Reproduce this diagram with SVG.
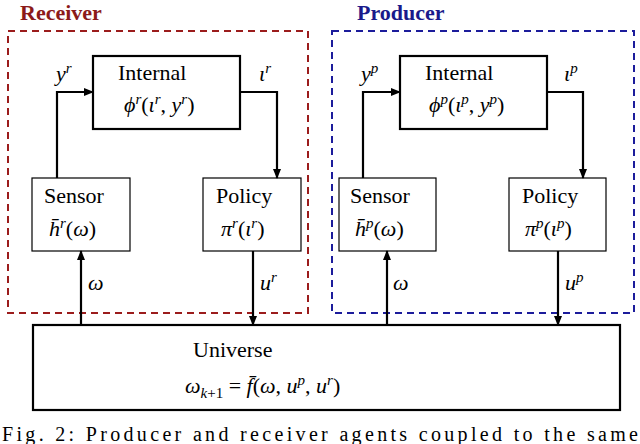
<svg xmlns="http://www.w3.org/2000/svg" width="640" height="444" viewBox="0 0 640 444">
<defs><marker id="ah" markerWidth="10" markerHeight="8" refX="9" refY="4" orient="auto" markerUnits="userSpaceOnUse"><path d="M0,0 L10,4 L0,8 Z" fill="#000"/></marker></defs>
<style>
text{font-family:"Liberation Serif",serif;font-size:22px;fill:#000}
.m{font-style:italic}
.sup{font-size:15px;font-style:italic}
.b{stroke:#000;fill:#fff}
.c path{stroke:#000;stroke-width:2.2;fill:none;marker-end:url(#ah)}
.t{font-weight:bold;font-size:22px}
</style>
<rect width="640" height="444" fill="#fff"/>
<g id="receiver"><rect x="8" y="31" width="300" height="282" fill="none" stroke="#9b1c1c" stroke-width="2" stroke-dasharray="7,5"/><text x="20" y="20" class="t" style="fill:#8b1a1a">Receiver</text></g>
<g id="producer"><rect x="332" y="31" width="302" height="282" fill="none" stroke="#1c1c9b" stroke-width="2" stroke-dasharray="7,5"/><text x="357" y="20" class="t" style="fill:#1a1a8b">Producer</text></g>
<g id="internal_r"><rect class="b" x="93" y="56" width="147" height="73" stroke-width="2.2"/><text x="118" y="80">Internal</text><text x="124" y="112" class="m">ϕ<tspan class="sup" dy="-8">r</tspan><tspan dy="8" style="font-style:normal">(</tspan>ι<tspan class="sup" dy="-8">r</tspan><tspan dy="8" style="font-style:normal">,</tspan> y<tspan class="sup" dy="-8">r</tspan><tspan dy="8" style="font-style:normal">)</tspan></text></g>
<g id="sensor_r"><rect class="b" x="32" y="178" width="98" height="73" stroke-width="1.2"/><text x="44" y="203">Sensor</text><text x="49" y="236" class="m">h̄<tspan class="sup" dy="-8">r</tspan><tspan dy="8" style="font-style:normal">(</tspan>ω<tspan style="font-style:normal">)</tspan></text></g>
<g id="policy_r"><rect class="b" x="203" y="178" width="98" height="73" stroke-width="1.2"/><text x="216" y="203">Policy</text><text x="221" y="236" class="m">π<tspan class="sup" dy="-8">r</tspan><tspan dy="8" style="font-style:normal">(</tspan>ι<tspan class="sup" dy="-8">r</tspan><tspan dy="8" style="font-style:normal">)</tspan></text></g>
<g id="internal_p"><rect class="b" x="400" y="56" width="147" height="73" stroke-width="2.2"/><text x="425" y="80">Internal</text><text x="429" y="112" class="m">ϕ<tspan class="sup" dy="-8">p</tspan><tspan dy="8" style="font-style:normal">(</tspan>ι<tspan class="sup" dy="-8">p</tspan><tspan dy="8" style="font-style:normal">,</tspan> y<tspan class="sup" dy="-8">p</tspan><tspan dy="8" style="font-style:normal">)</tspan></text></g>
<g id="sensor_p"><rect class="b" x="339" y="178" width="97" height="73" stroke-width="1.2"/><text x="350" y="203">Sensor</text><text x="355" y="236" class="m">h̄<tspan class="sup" dy="-8">p</tspan><tspan dy="8" style="font-style:normal">(</tspan>ω<tspan style="font-style:normal">)</tspan></text></g>
<g id="policy_p"><rect class="b" x="509" y="178" width="97" height="73" stroke-width="1.2"/><text x="522" y="203">Policy</text><text x="525" y="236" class="m">π<tspan class="sup" dy="-8">p</tspan><tspan dy="8" style="font-style:normal">(</tspan>ι<tspan class="sup" dy="-8">p</tspan><tspan dy="8" style="font-style:normal">)</tspan></text></g>
<g id="universe"><rect class="b" x="33" y="325" width="587" height="85" stroke-width="2.2"/><text x="193" y="357">Universe</text><text x="185" y="393" class="m">ω<tspan style="font-size:15px" dy="5">k</tspan><tspan style="font-size:15px;font-style:normal">+1</tspan><tspan dy="-5" style="font-style:normal"> = </tspan>f̄<tspan style="font-style:normal">(</tspan>ω<tspan style="font-style:normal">, </tspan>u<tspan class="sup" dy="-8">p</tspan><tspan dy="8" style="font-style:normal">, </tspan>u<tspan class="sup" dy="-8">r</tspan><tspan dy="8" style="font-style:normal">)</tspan></text></g>
<g id="connectors" class="c">
<path d="M57,178 V92 H93"/><path d="M240,92 H277 V178"/>
<path d="M81,325 V251"/><path d="M253,251 V325"/>
<path d="M363,178 V92 H400"/><path d="M547,92 H583 V178"/>
<path d="M387,325 V251"/><path d="M558,251 V325"/>
</g>
<g id="labels">
<text x="56" y="81" class="m">y<tspan class="sup" dy="-8">r</tspan></text>
<text x="259" y="81" class="m">ι<tspan class="sup" dy="-8">r</tspan></text>
<text x="88" y="290" class="m">ω</text>
<text x="260" y="290" class="m">u<tspan class="sup" dy="-8">r</tspan></text>
<text x="361" y="81" class="m">y<tspan class="sup" dy="-8">p</tspan></text>
<text x="564" y="81" class="m">ι<tspan class="sup" dy="-8">p</tspan></text>
<text x="393" y="290" class="m">ω</text>
<text x="565" y="290" class="m">u<tspan class="sup" dy="-8">p</tspan></text>
</g>
<text x="2" y="441" style="font-size:20px" textLength="636" lengthAdjust="spacing">Fig. 2: Producer and receiver agents coupled to the same</text>
</svg>
